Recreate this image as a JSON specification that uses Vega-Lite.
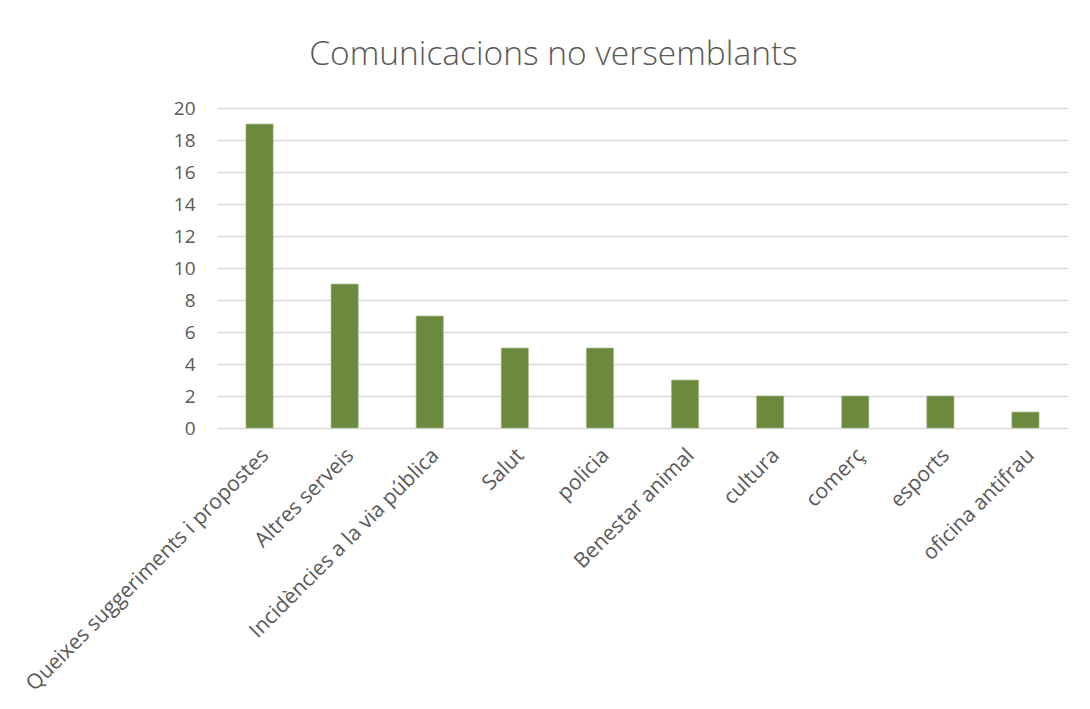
{
  "$schema": "https://vega.github.io/schema/vega-lite/v6.json",
  "width": 851,
  "height": 320,
  "autosize": {"type": "none"},
  "padding": {"left": 217, "top": 108, "right": 22, "bottom": 281},
  "background": "white",
  "title": {
    "text": "Comunicacions no versemblants",
    "anchor": "middle",
    "frame": "group",
    "dx": -89,
    "offset": 27,
    "font": "Open Sans",
    "fontSize": 33.5,
    "fontWeight": 300,
    "color": "#595959"
  },
  "data": {
    "values": [
      {"categoria": "Queixes suggeriments i propostes", "valor": 19},
      {"categoria": "Altres serveis", "valor": 9},
      {"categoria": "Incidències a la via pública", "valor": 7},
      {"categoria": "Salut", "valor": 5},
      {"categoria": "policia", "valor": 5},
      {"categoria": "Benestar animal", "valor": 3},
      {"categoria": "cultura", "valor": 2},
      {"categoria": "comerç", "valor": 2},
      {"categoria": "esports", "valor": 2},
      {"categoria": "oficina antifrau", "valor": 1}
    ]
  },
  "mark": {"type": "bar", "color": "#6b8a3e", "stroke": "#a9c08a", "strokeWidth": 0.6},
  "encoding": {
    "x": {
      "field": "categoria",
      "type": "nominal",
      "sort": null,
      "title": null,
      "scale": {"paddingInner": 0.68, "paddingOuter": 0.34},
      "axis": {
        "labelAngle": -45,
        "labelAlign": "right",
        "labelBaseline": "middle",
        "labelFont": "Open Sans",
        "labelFontSize": 21,
        "labelColor": "#595959",
        "labelPadding": 24,
        "labelOffset": 6,
        "labelLimit": 500,
        "ticks": false,
        "domain": false,
        "grid": false
      }
    },
    "y": {
      "field": "valor",
      "type": "quantitative",
      "title": null,
      "scale": {"domain": [0, 20], "nice": false},
      "axis": {
        "values": [0, 2, 4, 6, 8, 10, 12, 14, 16, 18, 20],
        "labelFont": "Open Sans",
        "labelFontSize": 19,
        "labelColor": "#595959",
        "labelPadding": 22,
        "ticks": false,
        "domain": false,
        "grid": true,
        "gridColor": "#d9d9d9",
        "gridWidth": 1.3
      }
    }
  },
  "config": {"view": {"stroke": null}}
}
